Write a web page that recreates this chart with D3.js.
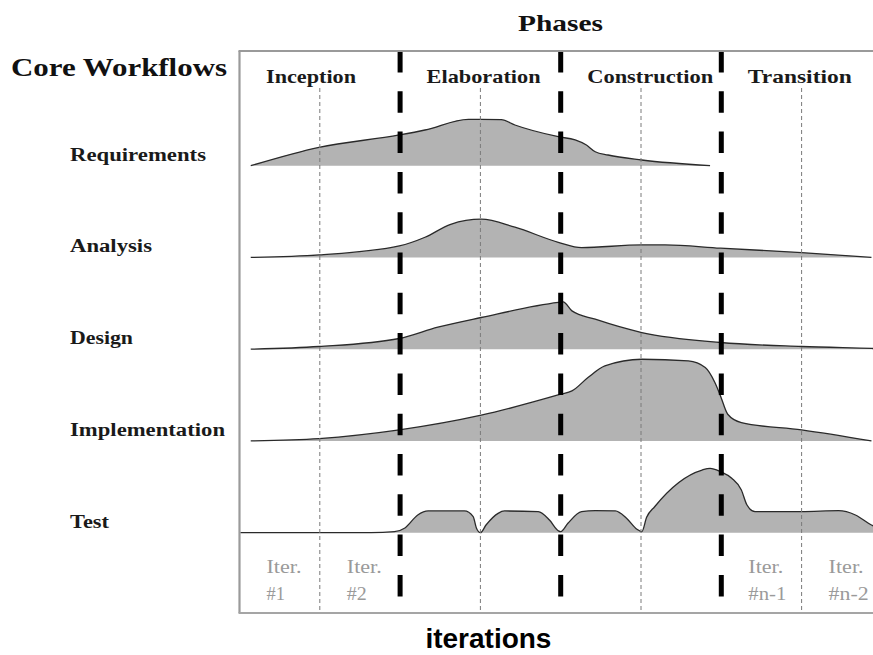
<!DOCTYPE html>
<html>
<head>
<meta charset="utf-8">
<script src="https://cdn.jsdelivr.net/npm/d3@7"></script>
<style>
  html, body { margin: 0; padding: 0; background: #fff; }
  svg { display: block; }
</style>
</head>
<body>
<svg id="chart" width="873" height="655"></svg>
<script>
// ---------------- DATA ----------------
const phases = ["Inception", "Elaboration", "Construction", "Transition"];
const workflows = ["Requirements", "Analysis", "Design", "Implementation", "Test"];
const iterationLabels = [["Iter.", "#1"], ["Iter.", "#2"], ["Iter.", "#n-1"], ["Iter.", "#n-2"]];
const iterationLabelSlots = [0, 1, 6, 7];
const phaseBoundaries = [2, 4, 6];          // iteration index of phase changes
const iterationBoundaries = [1, 3, 5, 7];   // thin dashed iteration separators

// effort curves: [iteration position, relative effort 0-100]
const requirements = [[0.14,0],[0.99,22.5],[1.99,37.6],[2.31,43.7],[2.85,56.8],[3.01,56.8],[3.26,56.3],[3.43,49.8],[3.97,35.5],[4.18,31.5],[4.32,25.3],[4.43,17.1],[4.59,13.1],[5.01,7],[5.86,0]];
const analysis = [[0.14,0],[0.99,3.1],[1.99,14.1],[2.31,24.7],[2.63,40.6],[3.01,46.8],[3.43,37],[3.97,18.6],[4.26,12.1],[5.01,15.3],[5.30,15.3],[5.99,11.3],[7.0,6],[7.87,0]];
const design = [[0.14,0],[0.99,3.3],[1.99,13.1],[2.47,26.9],[3.01,38.8],[3.97,57.2],[4.03,57.9],[4.14,46.9],[4.43,36.7],[5.01,20.4],[5.99,8.2],[7.0,3.3],[7.87,0.9],[8.0,0.5]];
const implementation = [[0.14,0],[0.99,2.9],[1.99,13.5],[3.01,31.5],[4.0,57.2],[4.14,61.2],[4.34,77.6],[4.55,91.8],[5.01,100],[5.59,97.9],[5.80,89.8],[5.92,71.5],[5.99,55.1],[6.08,32.7],[6.25,22.5],[7.0,13.5],[7.87,0]];
const test = [[0.01,0],[1.64,0],[1.93,1.2],[2.06,5.8],[2.22,21.7],[2.35,26.6],[2.80,26.6],[2.91,19.6],[2.95,5.8],[3.0,0],[3.07,9.4],[3.22,23.7],[3.30,26.6],[3.72,25.7],[3.86,15.5],[3.97,2.4],[4.0,1.2],[4.09,11.5],[4.26,25.7],[4.43,26.9],[4.68,26.6],[4.82,17.6],[4.95,4.2],[5.01,1.2],[5.07,18.8],[5.17,31.8],[5.76,76.7],[5.86,78.8],[5.99,74.7],[6.13,66.6],[6.25,52.3],[6.32,33.9],[6.42,25.7],[7.0,25.7],[7.46,26.9],[7.67,21.7],[7.87,9.4],[8.0,4]];
const curves = [requirements, analysis, design, implementation, test];

// ---------------- LAYOUT ----------------
const svg = d3.select("#chart");
const frameTop = 51, frameBottom = 613, frameLeft = 239.5, frameRight = 873;

const x = d3.scaleLinear().domain([0, 8]).range([239.5, 881.9]);
const row = d3.scalePoint().domain(workflows).range([165.7, 532.7]);
const amp = d3.scaleLinear().domain([0, 100]).range([0, 81.7]);

const serif = "'Liberation Serif', 'Times New Roman', serif";
const sans = "'Liberation Sans', Arial, sans-serif";

function fitText(sel, w) {
  sel.attr("textLength", w).attr("lengthAdjust", "spacingAndGlyphs");
}

// ---------------- CURVES ----------------
const gCurves = svg.append("g");
workflows.forEach((wf, i) => {
  const base = row(wf);
  const area = d3.area()
    .x(d => x(d[0]))
    .y0(base)
    .y1(d => base - amp(d[1]))
    .curve(d3.curveMonotoneX);
  const line = d3.line()
    .x(d => x(d[0]))
    .y(d => base - amp(d[1]))
    .curve(d3.curveMonotoneX);
  gCurves.append("path").attr("d", area(curves[i]))
    .attr("fill", "#b3b3b3").attr("stroke", "none");
  gCurves.append("path").attr("d", line(curves[i]))
    .attr("fill", "none").attr("stroke", "#2a2a2a").attr("stroke-width", 1.3);
});

// ---------------- GRID ----------------
const gGrid = svg.append("g");
gGrid.selectAll("line.thin").data(iterationBoundaries).join("line")
  .attr("class", "thin")
  .attr("x1", d => x(d)).attr("x2", d => x(d))
  .attr("y1", 88).attr("y2", frameBottom)
  .attr("stroke", "#7a7a7a").attr("stroke-width", 1)
  .attr("stroke-dasharray", "4,3");

gGrid.selectAll("line.thick").data(phaseBoundaries).join("line")
  .attr("class", "thick")
  .attr("x1", d => x(d)).attr("x2", d => x(d))
  .attr("y1", frameTop).attr("y2", frameBottom - 14)
  .attr("stroke", "#000").attr("stroke-width", 5)
  .attr("stroke-dasharray", "21.5,18.8");

// frame
svg.append("line").attr("x1", frameLeft - 1).attr("x2", frameRight)
  .attr("y1", frameTop).attr("y2", frameTop)
  .attr("stroke", "#9a9a9a").attr("stroke-width", 2.2);
svg.append("line").attr("x1", frameLeft).attr("x2", frameLeft)
  .attr("y1", frameTop).attr("y2", frameBottom)
  .attr("stroke", "#9a9a9a").attr("stroke-width", 2.2);
svg.append("line").attr("x1", frameLeft - 1).attr("x2", frameRight)
  .attr("y1", frameBottom).attr("y2", frameBottom)
  .attr("stroke", "#a5a5a5").attr("stroke-width", 2);

// ---------------- TEXT ----------------
svg.append("text").text("Phases")
  .attr("x", 518).attr("y", 31)
  .attr("font-family", serif).attr("font-weight", "bold").attr("font-size", 23)
  .attr("fill", "#111").call(fitText, 85);

svg.append("text").text("Core Workflows")
  .attr("x", 11).attr("y", 76)
  .attr("font-family", serif).attr("font-weight", "bold").attr("font-size", 26)
  .attr("fill", "#111").call(fitText, 216);

const phaseWidths = [90, 114, 126, 104];
svg.selectAll("text.phase").data(phases).join("text")
  .attr("class", "phase")
  .text(d => d)
  .attr("x", (d, i) => x(i * 2) + 26.5)
  .attr("y", 83)
  .attr("font-family", serif).attr("font-weight", "bold").attr("font-size", 19)
  .attr("fill", "#1a1a1a")
  .each(function (d, i) { d3.select(this).call(fitText, phaseWidths[i]); });

const rowWidths = [136, 82, 63, 155, 39];
svg.selectAll("text.wf").data(workflows).join("text")
  .attr("class", "wf")
  .text(d => d)
  .attr("x", 70)
  .attr("y", d => row(d) - 5)
  .attr("font-family", serif).attr("font-weight", "bold").attr("font-size", 18)
  .attr("fill", "#1a1a1a")
  .each(function (d, i) { d3.select(this).call(fitText, rowWidths[i]); });

const iterW = [[35, 18.5], [35, 20], [35, 38], [35, 40]];
iterationLabels.forEach((lab, i) => {
  const x0 = x(iterationLabelSlots[i]) + 27;
  lab.forEach((s, j) => {
    svg.append("text").text(s)
      .attr("x", x0).attr("y", 573 + j * 27)
      .attr("font-family", serif).attr("font-size", 18)
      .attr("fill", "#9a9a9a")
      .call(fitText, iterW[i][j]);
  });
});

svg.append("text").text("iterations")
  .attr("x", x(3.1)).attr("y", 648)
  .attr("text-anchor", "middle")
  .attr("font-family", sans).attr("font-weight", "bold").attr("font-size", 28)
  .attr("fill", "#000");
</script>
</body>
</html>
